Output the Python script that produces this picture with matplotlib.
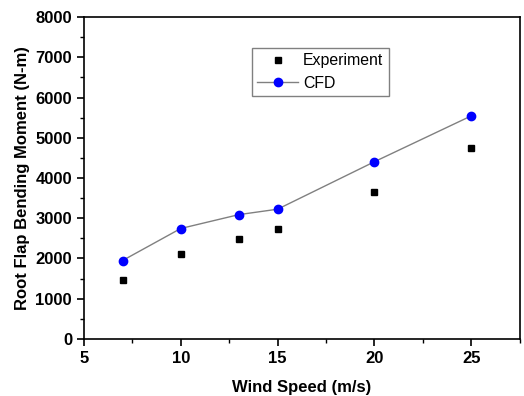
import matplotlib
matplotlib.use("Agg")
import matplotlib.pyplot as plt
from matplotlib.ticker import MultipleLocator

plt.rcParams["font.family"] = ["Liberation Sans", "DejaVu Sans"]

wind_speed = [7, 10, 13, 15, 20, 25]
experiment = [1470, 2105, 2480, 2725, 3645, 4740]
cfd = [1950, 2745, 3090, 3225, 4405, 5545]

fig = plt.figure(figsize=(5.24, 3.96), dpi=100)
ax = fig.add_axes([0.160, 0.144, 0.832, 0.813])

ax.plot(wind_speed, experiment, linestyle="none", marker="s", color="black",
        markersize=5, label="Experiment")
ax.plot(wind_speed, cfd, color="#808080", linewidth=1.0, marker="o",
        markerfacecolor="blue", markeredgecolor="blue", markersize=6, label="CFD")

ax.set_xlim(5, 27.5)
ax.set_ylim(0, 8000)
ax.xaxis.set_major_locator(MultipleLocator(5))
ax.xaxis.set_minor_locator(MultipleLocator(2.5))
ax.yaxis.set_major_locator(MultipleLocator(1000))
ax.yaxis.set_minor_locator(MultipleLocator(500))
ax.tick_params(which="major", length=5, width=1.2, labelsize=12)
ax.tick_params(which="minor", length=3, width=1)
for lbl in ax.get_xticklabels() + ax.get_yticklabels():
    lbl.set_fontweight("bold")
for sp in ax.spines.values():
    sp.set_linewidth(1.2)

ax.set_xlabel("Wind Speed (m/s)", fontsize=12, fontweight="bold", labelpad=10)
ax.set_ylabel("Root Flap Bending Moment (N-m)", fontsize=12, fontweight="bold", labelpad=4)

leg = ax.legend(loc="upper left", bbox_to_anchor=(0.385, 0.904), fontsize=11.4,
                frameon=True, fancybox=False, edgecolor="#606060", handlelength=2.6,
                handletextpad=0.3, borderpad=0.35, labelspacing=0.45, borderaxespad=0)
leg.get_frame().set_linewidth(1.0)

fig.savefig("out.png", dpi=100)
